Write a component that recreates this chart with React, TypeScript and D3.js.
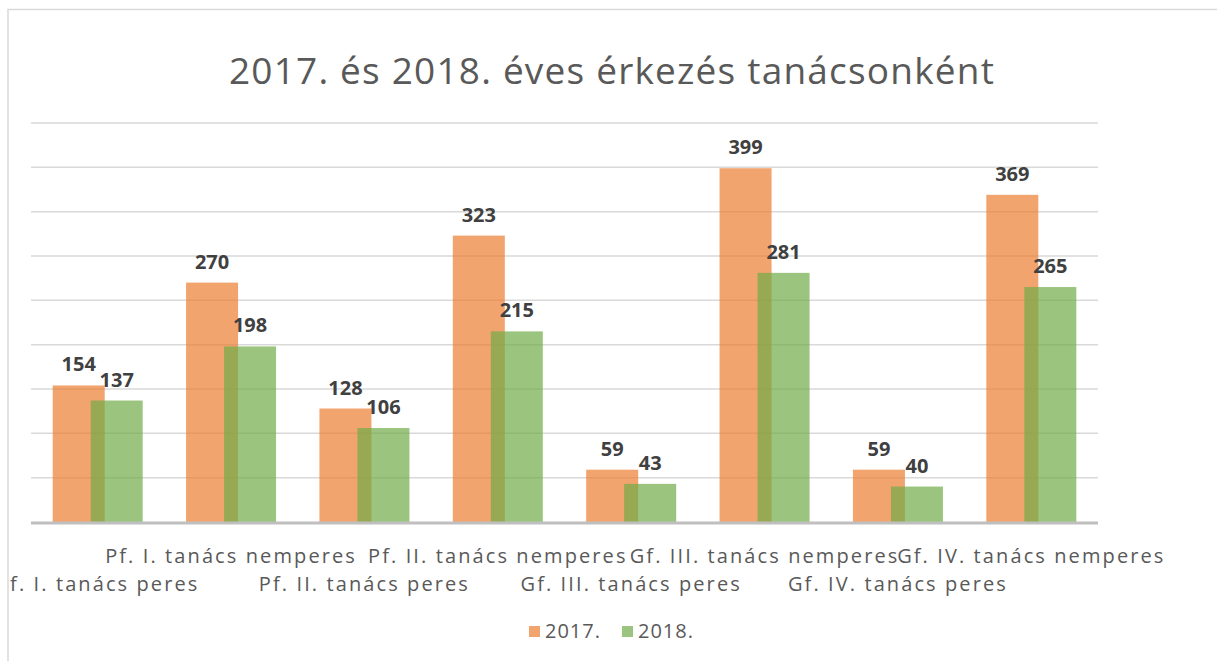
import React from "react";
import * as d3 from "d3";

const categories = [
  "Pf. I. tanács peres",
  "Pf. I. tanács nemperes",
  "Pf. II. tanács peres",
  "Pf. II. tanács nemperes",
  "Gf. III. tanács peres",
  "Gf. III. tanács nemperes",
  "Gf. IV. tanács peres",
  "Gf. IV. tanács nemperes",
];
const values2017 = [154, 270, 128, 323, 59, 399, 59, 369];
const values2018 = [137, 198, 106, 215, 43, 281, 40, 265];
const seriesNames = ["2017.", "2018."];
const gridTicks = [50, 100, 150, 200, 250, 300, 350, 400, 450];

const W = 1217;
const H = 661;
const FONT = "'Open Sans', 'Liberation Sans', sans-serif";

export default function App() {
  // plot area
  const x = d3.scaleBand<string>().domain(categories).range([31, 1098]);
  const y = d3.scaleLinear().domain([0, 450]).range([522, 123]);

  const barW = 52;
  const series = [
    { name: seriesNames[0], values: values2017, color: "#ED7D31", dx: -45 },
    { name: seriesNames[1], values: values2018, color: "#70AD47", dx: -7 },
  ];

  const cx = (c: string) => (x(c) ?? 0) + x.bandwidth() / 2;

  return (
    <svg
      width={W}
      height={H}
      style={{ position: "absolute", left: 0, top: 0, background: "#fff" }}
    >
      <defs>
        <clipPath id="chartClip">
          <rect x={8} y={9} width={W} height={H} />
        </clipPath>
      </defs>

      {/* chart frame */}
      <rect x={8} y={9.5} width={W + 20} height={H + 20} fill="#fff" stroke="#d9d9d9" strokeWidth={1.5} />

      <text
        x={612}
        y={84}
        textAnchor="middle"
        fontFamily={FONT}
        fontSize={37}
        fill="#595959"
        letterSpacing={1.2}
      >
        2017. és 2018. éves érkezés tanácsonként
      </text>

      {/* gridlines */}
      {gridTicks.map((t) => (
        <line key={t} x1={31} x2={1098} y1={y(t)} y2={y(t)} stroke="#d9d9d9" strokeWidth={1.5} />
      ))}

      {/* bars */}
      {series.map((s) =>
        categories.map((c, i) => (
          <rect
            key={s.name + c}
            x={cx(c) + s.dx}
            y={y(s.values[i])}
            width={barW}
            height={y(0) - y(s.values[i])}
            fill={s.color}
            fillOpacity={0.7}
          />
        ))
      )}

      {/* axis line */}
      <line x1={31} x2={1098} y1={y(0) + 1} y2={y(0) + 1} stroke="#bfbfbf" strokeWidth={3} />

      {/* value labels */}
      {series.map((s) =>
        categories.map((c, i) => (
          <text
            key={"l" + s.name + c}
            x={cx(c) + s.dx + barW / 2}
            y={y(s.values[i]) - 14}
            textAnchor="middle"
            fontFamily={FONT}
            fontSize={20}
            fontWeight="bold"
            fill="#404040"
          >
            {s.values[i]}
          </text>
        ))
      )}

      {/* category labels, staggered */}
      <g clipPath="url(#chartClip)">
        {categories.map((c, i) => (
          <text
            key={"c" + c}
            x={cx(c)}
            y={i % 2 === 1 ? 563 : 591}
            textAnchor="middle"
            fontFamily={FONT}
            fontSize={20}
            letterSpacing={2.1}
            fill="#595959"
          >
            {c}
          </text>
        ))}
      </g>

      {/* legend */}
      {series.map((s, i) => (
        <g key={"lg" + s.name} transform={`translate(${529 + i * 93},0)`}>
          <rect x={0} y={626} width={11} height={11} fill={s.color} fillOpacity={0.7} />
          <text x={16} y={638} fontFamily={FONT} fontSize={20} letterSpacing={1} fill="#595959">
            {s.name}
          </text>
        </g>
      ))}
    </svg>
  );
}
